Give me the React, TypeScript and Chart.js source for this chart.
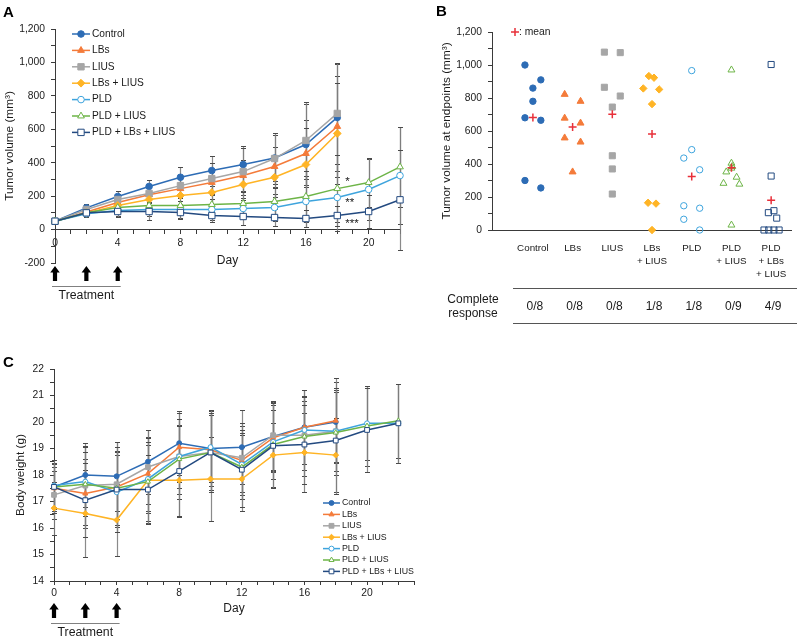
import React, { useEffect, useRef } from 'react';
import { Chart, registerables } from 'chart.js';

Chart.register(...registerables);

const FONT = '"Liberation Sans", Arial, Helvetica, sans-serif';
Chart.defaults.font.family = FONT;
Chart.defaults.color = '#1a1a1a';

// ---------------- data ----------------
const GROUPS = ['Control', 'LBs', 'LIUS', 'LBs + LIUS', 'PLD', 'PLD + LIUS', 'PLD + LBs + LIUS'];
const CATEGORY_LABELS = [['Control'], ['LBs'], ['LIUS'], ['LBs', '+ LIUS'], ['PLD'], ['PLD', '+ LIUS'], ['PLD', '+ LBs', '+ LIUS']];
const COMPLETE_RESPONSE = ['0/8', '0/8', '0/8', '1/8', '1/8', '0/9', '4/9'];
const DAYS = [0, 2, 4, 6, 8, 10, 12, 14, 16, 18, 20, 22];
const TREATMENT_DAYS = [0, 2, 4];

// Panel A: tumor volume (mm3), mean and SD
const TV_CONTROL = [50, 130, 198, 258, 313, 353, 389, 428, 509, 671];
const TV_LBS = [50, 105, 162, 208, 245, 282, 323, 377, 455, 617];
const TV_LIUS = [50, 120, 180, 216, 263, 305, 347, 425, 533, 695];
const TV_LBS_LIUS = [50, 100, 144, 180, 204, 222, 270, 313, 389, 575];
const TV_PLD = [50, 95, 114, 120, 120, 120, 126, 132, 168, 192, 240, 323];
const TV_PLD_LIUS = [50, 100, 132, 144, 144, 150, 156, 168, 198, 245, 281, 375];
const TV_PLD_LBS_LIUS = [50, 100, 108, 108, 102, 84, 78, 72, 66, 84, 108, 178];

const TV_SD_CONTROL = [10, 25, 30, 40, 60, 90, 110, 140, 240, 320];
const TV_SD_LBS = [10, 20, 30, 45, 55, 75, 95, 120, 200, 300];
const TV_SD_LIUS = [10, 25, 35, 55, 65, 95, 140, 150, 230, 300];
const TV_SD_LBS_LIUS = [10, 20, 30, 40, 50, 70, 95, 120, 220, 300];
const TV_SD_PLD = [10, 20, 30, 40, 50, 60, 60, 80, 150, 200, 180, 290];
const TV_SD_PLD_LIUS = [10, 20, 30, 40, 50, 60, 70, 80, 150, 200, 145, 240];
const TV_SD_PLD_LBS_LIUS = [10, 20, 30, 50, 40, 40, 50, 50, 50, 60, 100, 300];

const SIGNIF_LABELS = ['*', '**', '***'];
const SIGNIF_VALUES = [305, 175, 55];
const SIGNIF_DAY = 18;

// Panel B: tumor volume at endpoints (mm3), individual animals
const EP_CONTROL = [1000, 910, 860, 780, 680, 665, 300, 255];
const EP_LBS = [822, 780, 678, 648, 558, 533, 352];
const EP_LIUS = [1078, 1075, 865, 812, 745, 450, 370, 218];
const EP_LBS_LIUS = [933, 923, 858, 852, 763, 165, 160, 0];
const EP_PLD = [966, 487, 436, 365, 147, 132, 65, 0];
const EP_PLD_LIUS = [970, 405, 385, 375, 352, 320, 283, 278, 30];
const EP_PLD_LBS_LIUS = [1003, 327, 117, 105, 72, 0, 0, 0, 0];

// Panel C: body weight (g), mean and SD
const BW_CONTROL = [17.55, 18.0, 17.95, 18.5, 19.2, 19.0, 19.05, 19.45, 19.8, 20.0];
const BW_LBS = [17.5, 17.3, 17.55, 18.05, 19.05, 18.95, 18.55, 19.4, 19.8, 20.05];
const BW_LIUS = [17.25, 17.6, 17.65, 18.3, 18.7, 18.85, 18.65, 19.5, 19.5, 19.65];
const BW_LBS_LIUS = [16.75, 16.55, 16.3, 17.8, 17.8, 17.85, 17.85, 18.75, 18.85, 18.75];
const BW_PLD = [17.6, 17.75, 17.35, 17.85, 18.7, 19.05, 18.4, 19.25, 19.7, 19.65, 19.95, 19.95];
const BW_PLD_LIUS = [17.55, 17.65, 17.5, 17.75, 18.6, 18.85, 18.3, 19.15, 19.45, 19.6, 19.85, 20.05];
const BW_PLD_LBS_LIUS = [17.55, 17.05, 17.45, 17.45, 18.15, 18.85, 18.2, 19.1, 19.15, 19.3, 19.7, 19.95];

const BW_SD_CONTROL = [0.9, 1.2, 1.3, 1.2, 1.2, 1.4, 1.4, 1.3, 1.4, 1.5];
const BW_SD_LBS = [0.8, 1.3, 1.2, 1.4, 1.3, 1.5, 1.3, 1.3, 1.4, 1.6];
const BW_SD_LIUS = [0.9, 1.5, 1.6, 1.4, 1.2, 1.5, 1.3, 1.3, 1.3, 1.5];
const BW_SD_LBS_LIUS = [1.0, 1.65, 1.35, 1.6, 1.4, 1.6, 1.2, 1.2, 1.5, 1.4];
const BW_SD_PLD = [0.8, 1.3, 1.5, 1.3, 1.4, 1.3, 1.3, 1.4, 1.3, 1.5, 1.4, 1.5];
const BW_SD_PLD_LIUS = [0.9, 1.2, 1.4, 1.5, 1.5, 1.4, 1.2, 1.3, 1.5, 1.6, 1.5, 1.4];
const BW_SD_PLD_LBS_LIUS = [1.0, 1.4, 1.6, 1.3, 1.7, 1.5, 1.4, 1.6, 1.5, 2.0, 1.6, 1.5];

// ---------------- styles ----------------
const COLORS = ['#2d6cb5', '#f47b3a', '#a6a6a6', '#ffb425', '#3ea4dd', '#6db447', '#234a80'];
const POINT_STYLES = ['circle', 'triangle', 'rect', 'rectRot', 'circle', 'triangle', 'rect'];
const OPEN = [false, false, false, false, true, true, true];
const RADIUS: Record<string, number> = { circle: 3.3, triangle: 3.9, rect: 4.5, rectRot: 3.9 };
const B_JITTER = [
  [-0.2, 0.2, 0, 0, -0.2, 0.2, -0.2, 0.2],
  [-0.2, 0.2, -0.2, 0.2, -0.2, 0.2, 0],
  [-0.2, 0.2, -0.2, 0.2, 0, 0, 0, 0],
  [-0.08, 0.05, -0.22, 0.18, 0, -0.1, 0.1, 0],
  [0, 0, -0.2, 0.2, -0.2, 0.2, -0.2, 0.2],
  [0, 0, 0.02, 0, -0.13, 0.13, -0.2, 0.2, 0],
  [0, 0, 0.07, -0.07, 0.14, -0.18, -0.06, 0.07, 0.2],
];

const INK = '#1a1a1a';
const AXIS = '#3a3a3a';

function markerPath(ctx: CanvasRenderingContext2D, style: string, x: number, y: number, r: number) {
  ctx.beginPath();
  if (style === 'circle') ctx.arc(x, y, r, 0, Math.PI * 2);
  else if (style === 'triangle') {
    ctx.moveTo(x, y - r);
    ctx.lineTo(x + 0.866 * r, y + 0.5 * r);
    ctx.lineTo(x - 0.866 * r, y + 0.5 * r);
    ctx.closePath();
  } else if (style === 'rect') {
    const s = r * Math.SQRT1_2;
    ctx.rect(x - s, y - s, 2 * s, 2 * s);
  } else {
    ctx.moveTo(x - r, y);
    ctx.lineTo(x, y - r);
    ctx.lineTo(x + r, y);
    ctx.lineTo(x, y + r);
    ctx.closePath();
  }
}

function drawUpArrow(ctx: CanvasRenderingContext2D, x: number, yTop: number, h: number) {
  const headH = 6.5, headW = 9.5, shaftW = 4.2;
  ctx.beginPath();
  ctx.moveTo(x, yTop);
  ctx.lineTo(x + headW / 2, yTop + headH);
  ctx.lineTo(x + shaftW / 2, yTop + headH);
  ctx.lineTo(x + shaftW / 2, yTop + h);
  ctx.lineTo(x - shaftW / 2, yTop + h);
  ctx.lineTo(x - shaftW / 2, yTop + headH);
  ctx.lineTo(x - headW / 2, yTop + headH);
  ctx.closePath();
  ctx.fill();
}

function lineDatasets(means: number[][], sds: number[][], rScale: number) {
  return means.map((vals, g) => ({
    label: GROUPS[g],
    data: vals.map((v, i) => ({ x: DAYS[i], y: v })),
    sd: sds[g],
    borderColor: COLORS[g],
    backgroundColor: COLORS[g],
    borderWidth: 1.5,
    pointStyle: POINT_STYLES[g],
    pointRadius: RADIUS[POINT_STYLES[g]] * rScale,
    pointBorderWidth: 1,
    pointBorderColor: COLORS[g],
    pointBackgroundColor: OPEN[g] ? '#ffffff' : COLORS[g],
    tension: 0,
    clip: false,
    order: GROUPS.length - g,
  }));
}

const errorBarPlugin = {
  id: 'errorBars',
  beforeDatasetsDraw(chart: any) {
    const { ctx, scales: { x, y } } = chart;
    ctx.save();
    chart.data.datasets.forEach((ds: any) => {
      if (!ds.sd) return;
      ds.data.forEach((p: any, i: number) => {
        const sd = ds.sd[i];
        if (sd == null) return;
        const px = Math.round(x.getPixelForValue(p.x)) + 0.5;
        const y1 = Math.round(y.getPixelForValue(p.y + sd)) + 0.5;
        const y2 = Math.round(y.getPixelForValue(p.y - sd)) + 0.5;
        ctx.lineWidth = 1.2;
        ctx.strokeStyle = 'rgba(125,125,125,0.9)';
        ctx.beginPath();
        ctx.moveTo(px, y1);
        ctx.lineTo(px, y2);
        ctx.stroke();
        ctx.lineWidth = 1;
        ctx.strokeStyle = '#4a4a4a';
        ctx.beginPath();
        ctx.moveTo(px - 2.5, y1);
        ctx.lineTo(px + 2.5, y1);
        ctx.moveTo(px - 2.5, y2);
        ctx.lineTo(px + 2.5, y2);
        ctx.stroke();
      });
    });
    ctx.restore();
  },
};

function seriesLegend(id: string, o: { x: number; y: number; dy: number; len: number; gap: number; font: string }) {
  return {
    id,
    afterDraw(chart: any) {
      const ctx = chart.ctx as CanvasRenderingContext2D;
      ctx.save();
      chart.data.datasets.forEach((ds: any, i: number) => {
        const y = o.y + i * o.dy;
        ctx.strokeStyle = ds.borderColor;
        ctx.lineWidth = ds.borderWidth;
        ctx.beginPath();
        ctx.moveTo(o.x, y);
        ctx.lineTo(o.x + o.len, y);
        ctx.stroke();
        markerPath(ctx, ds.pointStyle, o.x + o.len / 2, y, ds.pointRadius);
        ctx.fillStyle = ds.pointBackgroundColor;
        ctx.fill();
        ctx.lineWidth = ds.pointBorderWidth;
        ctx.strokeStyle = ds.pointBorderColor;
        ctx.stroke();
        ctx.fillStyle = INK;
        ctx.font = o.font;
        ctx.textAlign = 'left';
        ctx.textBaseline = 'middle';
        ctx.fillText(ds.label, o.x + o.len + o.gap, y);
      });
      ctx.restore();
    },
  };
}

function treatmentPlugin(id: string, o: { dayY: number; arrowY: number; lineY: number; textY: number; stars?: boolean }) {
  return {
    id,
    afterDraw(chart: any) {
      const { ctx, chartArea, scales: { x, y } } = chart;
      ctx.save();
      ctx.fillStyle = INK;
      ctx.font = `12px ${FONT}`;
      ctx.textAlign = 'center';
      ctx.textBaseline = 'middle';
      ctx.fillText('Day', (chartArea.left + chartArea.right) / 2, o.dayY);
      ctx.fillStyle = '#000';
      TREATMENT_DAYS.forEach((d) => drawUpArrow(ctx, x.getPixelForValue(d), o.arrowY, 15));
      const x0 = x.getPixelForValue(TREATMENT_DAYS[0]) - 3;
      const x1 = x.getPixelForValue(TREATMENT_DAYS[TREATMENT_DAYS.length - 1]) + 3;
      ctx.strokeStyle = '#808080';
      ctx.lineWidth = 1;
      ctx.beginPath();
      ctx.moveTo(x0, o.lineY + 0.5);
      ctx.lineTo(x1, o.lineY + 0.5);
      ctx.stroke();
      ctx.fillStyle = INK;
      ctx.font = `12.3px ${FONT}`;
      ctx.fillText('Treatment', (x0 + x1) / 2, o.textY);
      if (o.stars) {
        ctx.font = `11.5px ${FONT}`;
        ctx.textAlign = 'left';
        SIGNIF_LABELS.forEach((s, i) => {
          ctx.fillText(s, x.getPixelForValue(SIGNIF_DAY) + 8, y.getPixelForValue(SIGNIF_VALUES[i]) + 3);
        });
      }
      ctx.restore();
    },
  };
}

const mean = (a: number[]) => a.reduce((s, v) => s + v, 0) / a.length;

const tickFont = { size: 10.3, family: FONT };
const titleFont = { size: 11.8, family: FONT };

function configA(): any {
  return {
    type: 'line',
    data: {
      datasets: lineDatasets(
        [TV_CONTROL, TV_LBS, TV_LIUS, TV_LBS_LIUS, TV_PLD, TV_PLD_LIUS, TV_PLD_LBS_LIUS],
        [TV_SD_CONTROL, TV_SD_LBS, TV_SD_LIUS, TV_SD_LBS_LIUS, TV_SD_PLD, TV_SD_PLD_LIUS, TV_SD_PLD_LBS_LIUS],
        1,
      ),
    },
    options: {
      animation: false,
      responsive: false,
      devicePixelRatio: 1,
      events: [],
      layout: { padding: { top: 29, right: 10, bottom: 42, left: 0 } },
      plugins: { legend: { display: false }, tooltip: { enabled: false } },
      scales: {
        x: {
          type: 'linear',
          min: 0,
          max: 22,
          position: { y: 0 },
          afterFit: (s: any) => { s.height = 0; },
          grid: { drawOnChartArea: false, drawTicks: true, tickLength: 4, color: AXIS },
          border: { color: AXIS, width: 1 },
          ticks: {
            stepSize: 1, autoSkip: false, maxRotation: 0, padding: 3, font: tickFont, color: INK,
            callback: (v: number) => (v % 4 === 0 ? String(v) : ''),
          },
        },
        y: {
          min: -200,
          max: 1200,
          afterFit: (s: any) => { s.width = 55; },
          grid: { drawOnChartArea: false, drawTicks: true, tickLength: 4, color: AXIS },
          border: { color: AXIS, width: 1 },
          ticks: {
            stepSize: 100, autoSkip: false, padding: 6, font: tickFont, color: INK,
            callback: (v: number) => (v % 200 === 0 ? v.toLocaleString('en-US') : ''),
          },
          title: { display: true, text: 'Tumor volume (mm³)', font: titleFont, color: INK, padding: { top: 3, bottom: 0 } },
        },
      },
    },
    plugins: [
      errorBarPlugin,
      seriesLegend('legendA', { x: 72, y: 34, dy: 16.4, len: 18, gap: 2, font: `10.2px ${FONT}` }),
      treatmentPlugin('treatA', { dayY: 261, arrowY: 266, lineY: 286, textY: 296, stars: true }),
    ],
  };
}

function configB(): any {
  const groups = [EP_CONTROL, EP_LBS, EP_LIUS, EP_LBS_LIUS, EP_PLD, EP_PLD_LIUS, EP_PLD_LBS_LIUS];
  const bRadius: Record<string, number> = { circle: 3.2, triangle: 4.0, rect: 4.3, rectRot: 3.7 };
  const datasets: any[] = groups.map((vals, g) => ({
    label: GROUPS[g],
    data: vals.map((v, i) => ({ x: g + B_JITTER[g][i], y: v })),
    pointStyle: POINT_STYLES[g],
    pointRadius: bRadius[POINT_STYLES[g]],
    pointBorderWidth: 1,
    pointBorderColor: COLORS[g],
    pointBackgroundColor: OPEN[g] ? 'rgba(255,255,255,0)' : COLORS[g],
    showLine: false,
    clip: false,
    order: 2,
  }));
  datasets.push({
    label: 'mean',
    data: groups.map((vals, g) => ({ x: g, y: mean(vals) })),
    pointStyle: 'cross',
    pointRadius: 4,
    pointBorderWidth: 1.5,
    pointBorderColor: '#e8303a',
    pointBackgroundColor: '#e8303a',
    showLine: false,
    clip: false,
    order: 1,
  });
  const annot = {
    id: 'annotB',
    afterDraw(chart: any) {
      const { ctx, scales: { x } } = chart;
      ctx.save();
      // mean legend
      ctx.strokeStyle = '#e8303a';
      ctx.lineWidth = 1.5;
      ctx.beginPath();
      ctx.moveTo(111, 32); ctx.lineTo(119, 32);
      ctx.moveTo(115, 28); ctx.lineTo(115, 36);
      ctx.stroke();
      ctx.fillStyle = INK;
      ctx.font = `10.3px ${FONT}`;
      ctx.textAlign = 'left';
      ctx.textBaseline = 'middle';
      ctx.fillText(': mean', 119, 32);
      // table
      ctx.strokeStyle = '#555';
      ctx.lineWidth = 1;
      ctx.beginPath();
      ctx.moveTo(113, 288.5); ctx.lineTo(397, 288.5);
      ctx.moveTo(113, 323.5); ctx.lineTo(397, 323.5);
      ctx.stroke();
      ctx.font = `12px ${FONT}`;
      ctx.textAlign = 'center';
      ctx.fillText('Complete', 73, 300);
      ctx.fillText('response', 73, 314);
      COMPLETE_RESPONSE.forEach((t, i) => ctx.fillText(t, x.getPixelForValue(i) + 2, 307));
      ctx.restore();
    },
  };
  return {
    type: 'scatter',
    data: { datasets },
    options: {
      animation: false,
      responsive: false,
      devicePixelRatio: 1,
      events: [],
      layout: { padding: { top: 32, right: 9, bottom: 0, left: 0 } },
      plugins: { legend: { display: false }, tooltip: { enabled: false } },
      scales: {
        x: {
          type: 'linear',
          min: -1.03,
          max: 6.5,
          afterFit: (s: any) => { s.height = 110; },
          afterBuildTicks: (s: any) => { s.ticks = CATEGORY_LABELS.map((_, i) => ({ value: i })); },
          grid: { display: false, drawTicks: false },
          border: { color: AXIS, width: 1 },
          ticks: {
            autoSkip: false, maxRotation: 0, padding: 12, color: INK,
            font: { size: 9.8, family: FONT, lineHeight: 1.3 },
            callback: (v: number) => CATEGORY_LABELS[Math.round(v)] ?? '',
          },
        },
        y: {
          min: 0,
          max: 1200,
          afterFit: (s: any) => { s.width = 92; },
          grid: { drawOnChartArea: false, drawTicks: true, tickLength: 4, color: AXIS },
          border: { color: AXIS, width: 1 },
          ticks: {
            stepSize: 100, autoSkip: false, padding: 6, font: tickFont, color: INK,
            callback: (v: number) => (v % 200 === 0 ? v.toLocaleString('en-US') : ''),
          },
          title: { display: true, text: 'Tumor volume at endpoints (mm³)', font: titleFont, color: INK, padding: { top: 40, bottom: 0 } },
        },
      },
    },
    plugins: [annot],
  };
}

function configC(): any {
  return {
    type: 'line',
    data: {
      datasets: lineDatasets(
        [BW_CONTROL, BW_LBS, BW_LIUS, BW_LBS_LIUS, BW_PLD, BW_PLD_LIUS, BW_PLD_LBS_LIUS],
        [BW_SD_CONTROL, BW_SD_LBS, BW_SD_LIUS, BW_SD_LBS_LIUS, BW_SD_PLD, BW_SD_PLD_LIUS, BW_SD_PLD_LBS_LIUS],
        0.75,
      ),
    },
    options: {
      animation: false,
      responsive: false,
      devicePixelRatio: 1,
      events: [],
      layout: { padding: { top: 24, right: 6, bottom: 0, left: 0 } },
      plugins: { legend: { display: false }, tooltip: { enabled: false } },
      scales: {
        x: {
          type: 'linear',
          min: 0,
          max: 23,
          afterFit: (s: any) => { s.height = 59; },
          grid: { drawOnChartArea: false, drawTicks: true, tickLength: 4, color: AXIS },
          border: { color: AXIS, width: 1 },
          ticks: {
            stepSize: 1, autoSkip: false, maxRotation: 0, padding: 2, font: tickFont, color: INK,
            callback: (v: number) => (v % 4 === 0 ? String(v) : ''),
          },
        },
        y: {
          min: 14,
          max: 22,
          afterFit: (s: any) => { s.width = 54; },
          grid: { drawOnChartArea: false, drawTicks: true, tickLength: 4, color: AXIS },
          border: { color: AXIS, width: 1 },
          ticks: {
            stepSize: 0.5, autoSkip: false, padding: 6, font: tickFont, color: INK,
            callback: (v: number) => (Number.isInteger(v) ? String(v) : ''),
          },
          title: { display: true, text: 'Body weight (g)', font: titleFont, color: INK, padding: { top: 14, bottom: 0 } },
        },
      },
    },
    plugins: [
      errorBarPlugin,
      seriesLegend('legendC', { x: 323, y: 158, dy: 11.4, len: 17, gap: 2, font: `8.8px ${FONT}` }),
      treatmentPlugin('treatC', { dayY: 264, arrowY: 258, lineY: 278, textY: 288 }),
    ],
  };
}

const letterStyle = (left: number, top: number): React.CSSProperties => ({
  position: 'absolute', left, top, fontFamily: FONT, fontWeight: 'bold', fontSize: 15, lineHeight: '15px', color: '#000',
});

export default function App() {
  const refA = useRef<HTMLCanvasElement>(null);
  const refB = useRef<HTMLCanvasElement>(null);
  const refC = useRef<HTMLCanvasElement>(null);

  useEffect(() => {
    const a = new Chart(refA.current as HTMLCanvasElement, configA());
    const b = new Chart(refB.current as HTMLCanvasElement, configB());
    const c = new Chart(refC.current as HTMLCanvasElement, configC());
    return () => { a.destroy(); b.destroy(); c.destroy(); };
  }, []);

  return (
    <div style={{ position: 'fixed', left: 0, top: 0, width: 800, height: 640, background: '#fff', overflow: 'hidden' }}>
      <canvas ref={refA} width={410} height={305} style={{ position: 'absolute', left: 0, top: 0, width: 410, height: 305 }} />
      <canvas ref={refB} width={400} height={340} style={{ position: 'absolute', left: 400, top: 0, width: 400, height: 340 }} />
      <canvas ref={refC} width={420} height={295} style={{ position: 'absolute', left: 0, top: 345, width: 420, height: 295 }} />
      <div style={letterStyle(3, 4)}>A</div>
      <div style={letterStyle(436, 3)}>B</div>
      <div style={letterStyle(3, 354)}>C</div>
    </div>
  );
}
